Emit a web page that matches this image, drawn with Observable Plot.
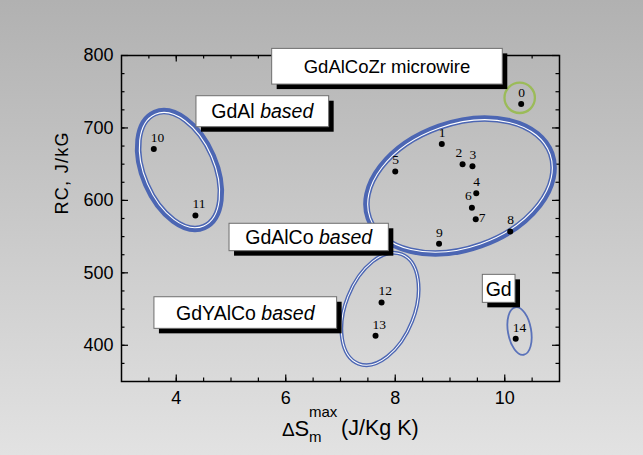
<!DOCTYPE html>
<html>
<head>
<meta charset="utf-8">
<script src="https://cdn.jsdelivr.net/npm/d3@7"></script>
<script src="https://cdn.jsdelivr.net/npm/@observablehq/plot@0.6"></script>
<style>
  html, body { margin: 0; padding: 0; }
  body {
    width: 643px; height: 455px; overflow: hidden;
    background: linear-gradient(to bottom, #b1b1b1, #e2e2e2);
    font-family: "Liberation Sans", Arial, sans-serif;
  }
</style>
</head>
<body>
<div id="chart"></div>
<script>
// Sample numbers with their maximum magnetic entropy change (J/kg K)
// and refrigerant capacity (J/kg)
const sampleLabels = ["0", "1", "2", "3", "4", "5", "6", "7", "8", "9", "10", "11", "12", "13", "14"];
const deltaSmax = [10.30, 8.85, 9.23, 9.41, 9.48, 8.00, 9.40, 9.47, 10.10, 8.80, 3.59, 4.35, 7.75, 7.64, 10.20];
const refCapacity = [733, 678, 650, 647, 610, 640, 590, 574, 557, 540, 671, 579, 459, 413, 409];

// Axis ticks
const xTickLabels = [4, 6, 8, 10];
const yTickLabels = [400, 500, 600, 700, 800];
const xMinorTicks = d3.range(3.5, 11, 0.5);
const yMinorTicks = d3.range(375, 800, 25);

// Alloy families: names and the italic suffix shown in their caption boxes
const familyNames = ["GdAlCoZr microwire", "GdAl", "GdAlCo", "GdYAlCo", "Gd"];
const familySuffix = ["", "based", "based", "based", ""];

const points = sampleLabels.map((label, i) => ({label, x: deltaSmax[i], y: refCapacity[i]}));

// Label placement around each dot
const labelSide = {"2": "aboveLeft", "6": "aboveLeft", "7": "right"};
const side = (d) => labelSide[d.label] ?? "above";

// Outlines grouping the samples: centre in data units, radii (px), tilt (deg), line style
const outlines = [
  {x: 10.282, y: 740.9, rx: 16.3, ry: 16.3, angle: 0, kind: "ring"},
  {x: 9.192, y: 619.2, rx: 100, ry: 66, angle: -19.5, kind: "thick"},
  {x: 4.068, y: 641.2, rx: 65.4, ry: 39.4, angle: 66.6, kind: "thick"},
  {x: 7.731, y: 449.4, rx: 60.7, ry: 36.3, angle: -68.4, kind: "thin"},
  {x: 10.279, y: 419.0, rx: 25, ry: 12.5, angle: 80, kind: "single"}
];

// Caption boxes: centre in data units, box size (px), font size
const captionBoxes = [
  {x: 7.858, y: 784.5, w: 230.6, h: 35.7, size: 18.5},
  {x: 5.581, y: 722.4, w: 132.7, h: 31, size: 19.5},
  {x: 6.428, y: 548.8, w: 159.3, h: 27.4, size: 19.5},
  {x: 5.270, y: 444.5, w: 182.7, h: 31.6, size: 19.5},
  {x: 9.898, y: 477.9, w: 32.7, h: 28, size: 19.5}
].map((b, i) => ({...b, name: familyNames[i], suffix: familySuffix[i]}));

const blue = "#4c66b3";
const strokeLayers = {
  thick: [[3.25, 6.5, blue], [4.5, 1.1, "#ffffff"]],
  thin: [[1.9, 3.8, blue], [1.9, 1.0, "#ffffff"]],
  single: [[0.9, 1.8, "#5a72ba"]],
  ring: [[1.1, 2.3, "#9bbb59"]]
};

function drawOutlines(index, scales, values) {
  const g = d3.create("svg:g");
  for (const i of index) {
    const d = outlines[i];
    const cx = values.x[i], cy = values.y[i];
    for (const [inset, width, color] of strokeLayers[d.kind]) {
      g.append("ellipse")
        .attr("cx", cx).attr("cy", cy)
        .attr("rx", d.rx - inset).attr("ry", d.ry - inset)
        .attr("transform", `rotate(${d.angle} ${cx} ${cy})`)
        .attr("fill", "none").attr("stroke", color).attr("stroke-width", width);
    }
  }
  return g.node();
}

function drawCaptions(index, scales, values) {
  const g = d3.create("svg:g");
  for (const i of index) {
    const d = captionBoxes[i];
    const cx = values.x[i], cy = values.y[i];
    g.append("rect")
      .attr("x", cx - d.w / 2 + 5).attr("y", cy - d.h / 2 + 5)
      .attr("width", d.w).attr("height", d.h).attr("fill", "#000");
    g.append("rect")
      .attr("x", cx - d.w / 2).attr("y", cy - d.h / 2)
      .attr("width", d.w).attr("height", d.h)
      .attr("fill", "#fff").attr("stroke", "#6e6e6e").attr("stroke-width", 1);
    const t = g.append("text")
      .attr("x", cx).attr("y", cy + d.size * 0.37)
      .attr("text-anchor", "middle")
      .attr("font-size", d.size)
      .attr("font-family", "'Liberation Sans', Arial, sans-serif")
      .attr("fill", "#000");
    t.append("tspan").text(d.suffix ? d.name + " " : d.name);
    if (d.suffix) t.append("tspan").attr("font-style", "italic").text(d.suffix);
  }
  return g.node();
}

const innerH = 455 - 55 - 74;
const innerW = 643 - 121 - 84;
const serif = "'Liberation Serif', 'Times New Roman', serif";

const chart = Plot.plot({
  width: 643,
  height: 455,
  marginLeft: 121,
  marginRight: 84,
  marginTop: 55,
  marginBottom: 74,
  style: {background: "transparent", fontFamily: "'Liberation Sans', Arial, sans-serif", fontSize: "18px", color: "#000", overflow: "visible"},
  x: {domain: [3, 11]},
  y: {domain: [350, 800]},
  marks: [
    Plot.frame({stroke: "#000", strokeWidth: 1.5}),
    // inward ticks on all four sides
    Plot.tickX(xTickLabels, {x: d => d, insetTop: innerH - 6.5, strokeWidth: 1.2}),
    Plot.tickX(xMinorTicks, {x: d => d, insetTop: innerH - 3.5, strokeWidth: 1.2}),
    Plot.tickX(xTickLabels, {x: d => d, insetBottom: innerH - 6.5, strokeWidth: 1.2}),
    Plot.tickX(xMinorTicks, {x: d => d, insetBottom: innerH - 3.5, strokeWidth: 1.2}),
    Plot.tickY(yTickLabels, {y: d => d, insetRight: innerW - 7, strokeWidth: 1.2}),
    Plot.tickY(yMinorTicks, {y: d => d, insetRight: innerW - 3.5, strokeWidth: 1.2}),
    Plot.tickY(yTickLabels, {y: d => d, insetLeft: innerW - 7, strokeWidth: 1.2}),
    Plot.tickY(yMinorTicks, {y: d => d, insetLeft: innerW - 3.5, strokeWidth: 1.2}),
    Plot.axisX(xTickLabels, {tickSize: 0, tickPadding: 10, label: null, fontSize: 18}),
    Plot.axisY(yTickLabels, {tickSize: 0, tickPadding: 8, label: null, fontSize: 18}),
    // axis titles
    Plot.text(["RC, J/kG"], {text: d => d, frameAnchor: "left", rotate: -90, dx: -59.5, dy: -4, fontSize: 18}),
    Plot.text(["Δ"], {text: d => d, frameAnchor: "bottom", textAnchor: "start", lineAnchor: "bottom", dx: -58.5, dy: 54, fontSize: 19}),
    Plot.text(["S"], {text: d => d, frameAnchor: "bottom", textAnchor: "start", lineAnchor: "bottom", dx: -46, dy: 54, fontSize: 22}),
    Plot.text(["m"], {text: d => d, frameAnchor: "bottom", textAnchor: "start", lineAnchor: "bottom", dx: -31.5, dy: 60.5, fontSize: 15}),
    Plot.text(["max"], {text: d => d, frameAnchor: "bottom", textAnchor: "start", lineAnchor: "bottom", dx: -31.5, dy: 35.5, fontSize: 15}),
    Plot.text(["(J/Kg K)"], {text: d => d, frameAnchor: "bottom", textAnchor: "start", lineAnchor: "bottom", dx: 0.5, dy: 53, fontSize: 21.5}),
    // family outlines
    Plot.dot(outlines, {x: "x", y: "y", render: drawOutlines}),
    // samples
    Plot.dot(points, {x: "x", y: "y", r: 3, fill: "#000"}),
    Plot.text(points.filter(d => side(d) === "above"), {x: "x", y: "y", text: "label", textAnchor: "start", dx: -3, dy: -11.5, fontSize: 13.5, fontFamily: serif}),
    Plot.text(points.filter(d => side(d) === "aboveLeft"), {x: "x", y: "y", text: "label", textAnchor: "start", dx: -7, dy: -11.5, fontSize: 13.5, fontFamily: serif}),
    Plot.text(points.filter(d => side(d) === "right"), {x: "x", y: "y", text: "label", textAnchor: "start", dx: 3, dy: -2, fontSize: 13.5, fontFamily: serif}),
    // family captions
    Plot.text(captionBoxes, {x: "x", y: "y", text: "name", render: drawCaptions})
  ]
});

document.getElementById("chart").append(chart);
d3.select(chart).selectAll("text").filter(function () { return this.textContent === "RC, J/kG"; })
  .style("letter-spacing", "1.3px");
</script>
</body>
</html>
